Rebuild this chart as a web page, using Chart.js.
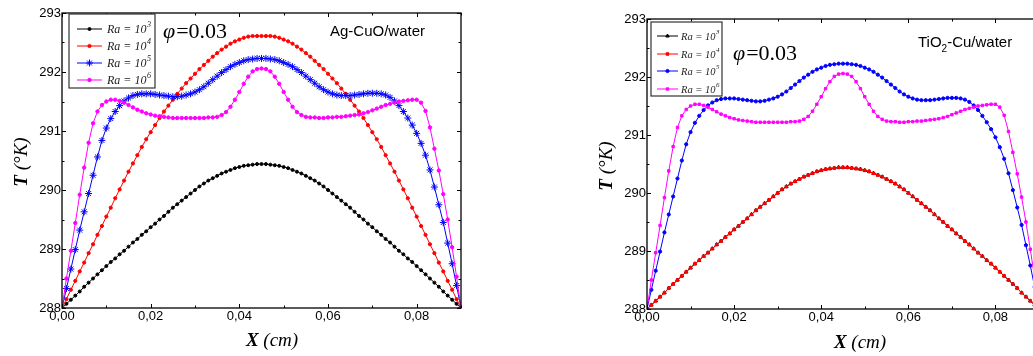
<!DOCTYPE html>
<html>
<head>
<meta charset="utf-8">
<script src="https://cdn.jsdelivr.net/npm/chart.js@4.4.0/dist/chart.umd.min.js"></script>
<style>
html, body { margin: 0; padding: 0; background: #fff; overflow: hidden; }
#wrap { position: relative; width: 1033px; height: 356px; overflow: hidden; }
#left { position: absolute; left: 0; top: 0; }
#right { position: absolute; left: 585px; top: 0; }
</style>
</head>
<body>
<div id="wrap">
  <canvas id="left" width="480" height="356"></canvas>
  <canvas id="right" width="480" height="356"></canvas>
</div>
<script>
// X position (cm)
const xs = [
  0.000, 0.001, 0.002, 0.003, 0.004, 0.005, 0.006, 0.007, 0.008, 0.009,
  0.010, 0.011, 0.012, 0.013, 0.014, 0.015, 0.016, 0.017, 0.018, 0.019,
  0.020, 0.021, 0.022, 0.023, 0.024, 0.025, 0.026, 0.027, 0.028, 0.029,
  0.030, 0.031, 0.032, 0.033, 0.034, 0.035, 0.036, 0.037, 0.038, 0.039,
  0.040, 0.041, 0.042, 0.043, 0.044, 0.045, 0.046, 0.047, 0.048, 0.049,
  0.050, 0.051, 0.052, 0.053, 0.054, 0.055, 0.056, 0.057, 0.058, 0.059,
  0.060, 0.061, 0.062, 0.063, 0.064, 0.065, 0.066, 0.067, 0.068, 0.069,
  0.070, 0.071, 0.072, 0.073, 0.074, 0.075, 0.076, 0.077, 0.078, 0.079,
  0.080, 0.081, 0.082, 0.083, 0.084, 0.085, 0.086, 0.087, 0.088, 0.089,
  0.090
];

// Ra = 10^3 (also the TiO2-Cu Ra=10^3 / 10^4 curves, which lie on top of each other)
const ra3 = [
  288.00, 288.07, 288.14, 288.21, 288.28, 288.36, 288.43, 288.50, 288.57, 288.64,
  288.71, 288.78, 288.84, 288.91, 288.97, 289.04, 289.11, 289.17, 289.24, 289.30,
  289.37, 289.43, 289.50, 289.56, 289.63, 289.70, 289.76, 289.82, 289.88, 289.94,
  290.00, 290.06, 290.11, 290.16, 290.20, 290.24, 290.28, 290.31, 290.34, 290.37,
  290.39, 290.41, 290.42, 290.43, 290.44, 290.44,
  290.44, 290.43, 290.42, 290.41, 290.39, 290.37, 290.34, 290.31, 290.28, 290.24,
  290.20, 290.16, 290.11, 290.06, 290.00, 289.94, 289.88, 289.82, 289.76, 289.70,
  289.63, 289.56, 289.50, 289.43, 289.37, 289.30, 289.24, 289.17, 289.11, 289.04,
  288.97, 288.91, 288.84, 288.78, 288.71, 288.64, 288.57, 288.50, 288.43, 288.36,
  288.28, 288.21, 288.14, 288.07, 288.00
];

// Ra = 10^4 (Ag-CuO)
const ra4 = [
  288.00, 288.15, 288.31, 288.46, 288.62, 288.77, 288.93, 289.08, 289.24, 289.39,
  289.55, 289.70, 289.86, 290.01, 290.16, 290.31, 290.45, 290.59, 290.73, 290.86,
  290.98, 291.10, 291.22, 291.33, 291.43, 291.53, 291.63, 291.72, 291.81, 291.89,
  291.97, 292.05, 292.12, 292.19, 292.26, 292.32, 292.38, 292.43, 292.48, 292.52,
  292.55, 292.58, 292.60, 292.61, 292.61, 292.61,
  292.61, 292.61, 292.60, 292.58, 292.55, 292.52, 292.48, 292.43, 292.38, 292.32,
  292.26, 292.19, 292.12, 292.05, 291.97, 291.89, 291.81, 291.72, 291.63, 291.53,
  291.43, 291.33, 291.22, 291.10, 290.98, 290.86, 290.73, 290.59, 290.45, 290.31,
  290.16, 290.01, 289.86, 289.70, 289.55, 289.39, 289.24, 289.08, 288.93, 288.77,
  288.62, 288.46, 288.31, 288.15, 288.00
];

// Ra = 10^5
const ra5 = [
  288.00, 288.33, 288.66, 288.99, 289.32, 289.63, 289.94, 290.25, 290.56, 290.84,
  291.05, 291.21, 291.33, 291.43, 291.51, 291.56, 291.60, 291.62, 291.63, 291.63,
  291.63, 291.62, 291.61, 291.60, 291.59, 291.58, 291.58, 291.59, 291.61, 291.63,
  291.66, 291.70, 291.75, 291.81, 291.87, 291.93, 291.99, 292.04, 292.09, 292.13,
  292.16, 292.19, 292.21, 292.22, 292.23, 292.23,
  292.23, 292.22, 292.21, 292.19, 292.16, 292.13, 292.09, 292.04, 291.99, 291.93,
  291.87, 291.81, 291.75, 291.70, 291.66, 291.63, 291.61, 291.60, 291.60, 291.60,
  291.61, 291.62, 291.63, 291.64, 291.64, 291.64, 291.63, 291.61, 291.57, 291.51,
  291.43, 291.33, 291.22, 291.10, 290.96, 290.79, 290.59, 290.34, 290.05, 289.75,
  289.45, 289.10, 288.75, 288.38, 288.00
];

// Ra = 10^6
const ra6 = [
  288.00, 288.50, 288.97, 289.44, 289.92, 290.38, 290.80, 291.13, 291.33, 291.44,
  291.50, 291.53, 291.53, 291.51, 291.48, 291.44, 291.40, 291.36, 291.33, 291.30,
  291.28, 291.26, 291.25, 291.24, 291.23, 291.22, 291.22, 291.22, 291.22, 291.22,
  291.22, 291.22, 291.22, 291.23, 291.23, 291.24, 291.27, 291.32, 291.41, 291.53,
  291.66, 291.80, 291.92, 292.01, 292.05, 292.06,
  292.05, 292.01, 291.92, 291.80, 291.66, 291.53, 291.41, 291.32, 291.27, 291.24,
  291.23, 291.23, 291.22, 291.22, 291.23, 291.23, 291.24, 291.24, 291.25, 291.26,
  291.27, 291.28, 291.30, 291.32, 291.35, 291.38, 291.41, 291.44, 291.46, 291.48,
  291.50, 291.51, 291.52, 291.53, 291.53, 291.48, 291.34, 291.06, 290.70, 290.33,
  289.93, 289.50, 289.03, 288.53, 288.00
];

const raExp = ["3", "4", "5", "6"];
const xTicks = [0, 0.02, 0.04, 0.06, 0.08];
const xMinor = [0.01, 0.03, 0.05, 0.07, 0.09];
const yTicks = [288, 289, 290, 291, 292, 293];
const yMinor = [288.5, 289.5, 290.5, 291.5, 292.5];

function ds(label, vals, color, style, r, order) {
  return {
    label: label,
    data: xs.map((x, i) => ({ x: x, y: vals[i] })),
    borderColor: color,
    backgroundColor: color,
    borderWidth: 1,
    pointStyle: style,
    pointRadius: r,
    pointBorderWidth: 1,
    pointHoverRadius: r,
    tension: 0,
    order: order
  };
}

// frame, inner ticks, legend, texts
const decor = {
  id: "decor",
  afterDraw(chart) {
    const o = chart.options.plugins.decor;
    const ctx = chart.ctx, a = chart.chartArea;
    const sx = chart.scales.x, sy = chart.scales.y;
    ctx.save();
    ctx.strokeStyle = "#000";
    ctx.lineWidth = 1.3;
    ctx.strokeRect(a.left, a.top, a.right - a.left, a.bottom - a.top);
    ctx.lineWidth = 1;
    ctx.beginPath();
    const tx = (v, len) => {
      const p = Math.round(sx.getPixelForValue(v)) + 0.5;
      ctx.moveTo(p, a.bottom); ctx.lineTo(p, a.bottom - len);
      ctx.moveTo(p, a.top); ctx.lineTo(p, a.top + len);
    };
    const ty = (v, len) => {
      const p = Math.round(sy.getPixelForValue(v)) + 0.5;
      ctx.moveTo(a.left, p); ctx.lineTo(a.left + len, p);
      ctx.moveTo(a.right, p); ctx.lineTo(a.right - len, p);
    };
    xTicks.forEach(v => tx(v, 4));
    xMinor.forEach(v => tx(v, 2.5));
    yTicks.forEach(v => ty(v, 4));
    yMinor.forEach(v => ty(v, 2.5));
    ctx.stroke();

    // legend
    const L = o.legend;
    ctx.fillStyle = "#fff";
    ctx.fillRect(L.x, L.y, L.w, L.h);
    ctx.lineWidth = 1.2;
    ctx.strokeStyle = "#333";
    ctx.strokeRect(L.x, L.y, L.w, L.h);
    chart.data.datasets.forEach((d, i) => {
      const yy = L.rows[i];
      ctx.strokeStyle = d.borderColor;
      ctx.fillStyle = d.backgroundColor;
      ctx.lineWidth = 1;
      ctx.beginPath();
      ctx.moveTo(L.x1, yy); ctx.lineTo(L.x2, yy);
      ctx.stroke();
      Chart.helpers.drawPoint(ctx, { pointStyle: d.pointStyle, radius: d.pointRadius, rotation: 0, borderWidth: 1 }, (L.x1 + L.x2) / 2, yy);
      ctx.fillStyle = "#222";
      ctx.textBaseline = "middle";
      ctx.textAlign = "left";
      ctx.font = "italic " + L.fs + "px 'Liberation Serif'";
      const t = "Ra = 10";
      ctx.fillText(t, L.tx, yy + 1);
      const w = ctx.measureText(t).width;
      ctx.font = "italic " + Math.round(L.fs * 0.7) + "px 'Liberation Serif'";
      ctx.fillText(raExp[i], L.tx + w + 0.5, yy - L.fs * 0.35);
    });

    // phi
    ctx.fillStyle = "#000";
    ctx.textBaseline = "middle";
    ctx.textAlign = "left";
    ctx.font = "italic " + o.phi.fs + "px 'Liberation Serif'";
    ctx.fillText("\u03C6", o.phi.x, o.phi.y);
    let w = ctx.measureText("\u03C6").width;
    ctx.font = o.phi.fs + "px 'Liberation Serif'";
    ctx.fillText("=0.03", o.phi.x + w + 1, o.phi.y);

    // material label
    let px = o.name.x;
    o.name.parts.forEach(p => {
      if (p.sub) {
        ctx.font = "10px 'Liberation Sans'";
        ctx.fillText(p.t, px, o.name.y + 6);
      } else {
        ctx.font = "15px 'Liberation Sans'";
        ctx.fillText(p.t, px, o.name.y);
      }
      px += ctx.measureText(p.t).width;
    });

    // axis titles
    const title = (bold, rest, cx, cy, rot) => {
      ctx.save();
      ctx.translate(cx, cy);
      ctx.rotate(rot);
      ctx.font = "bold italic 19px 'Liberation Serif'";
      const w1 = ctx.measureText(bold).width;
      ctx.font = "italic 19px 'Liberation Serif'";
      const w2 = ctx.measureText(rest).width;
      let x0 = -(w1 + w2) / 2;
      ctx.textAlign = "left";
      ctx.font = "bold italic 19px 'Liberation Serif'";
      ctx.fillText(bold, x0, 0);
      ctx.font = "italic 19px 'Liberation Serif'";
      ctx.fillText(rest, x0 + w1, 0);
      ctx.restore();
    };
    title("X", " (cm)", o.xt.x, o.xt.y, 0);
    title("T", " (\u00B0K)", o.yt.x, o.yt.y, -Math.PI / 2);
    ctx.restore();
  }
};

function scales(xh, yw) {
  const f = { family: "'Liberation Sans'", size: 13 };
  return {
    x: {
      type: "linear", min: 0, max: 0.09,
      grid: { display: false, drawTicks: false }, border: { display: false },
      afterBuildTicks: s => { s.ticks = xTicks.map(v => ({ value: v })); },
      afterFit: s => { s.height = xh; },
      ticks: { font: f, color: "#000", padding: 1, maxRotation: 0, autoSkip: false,
        callback: v => v.toFixed(2).replace(".", ",") }
    },
    y: {
      min: 288, max: 293,
      grid: { display: false, drawTicks: false }, border: { display: false },
      afterBuildTicks: s => { s.ticks = yTicks.map(v => ({ value: v })); },
      afterFit: s => { s.width = yw; },
      ticks: { font: f, color: "#000", padding: 1, callback: v => String(v) }
    }
  };
}

new Chart(document.getElementById("left"), {
  type: "line",
  data: {
    datasets: [
      ds("Ra = 10^3", ra3, "#000000", "circle", 1.5, 3),
      ds("Ra = 10^4", ra4, "#ff0000", "circle", 1.6, 2),
      ds("Ra = 10^5", ra5, "#0000ff", "star", 3.5, 1),
      ds("Ra = 10^6", ra6, "#ff00ff", "circle", 1.7, 0)
    ]
  },
  options: {
    responsive: false, animation: false,
    layout: { padding: { left: 0, top: 13, right: 19, bottom: 0 } },
    scales: scales(48, 62),
    plugins: {
      legend: { display: false }, tooltip: { enabled: false },
      decor: {
        legend: { x: 69, y: 14, w: 86, h: 74, rows: [29, 46, 63, 80], x1: 77, x2: 102, tx: 107, fs: 12 },
        phi: { x: 163, y: 32, fs: 22 },
        name: { x: 330, y: 32, parts: [{ t: "Ag-CuO/water" }] },
        xt: { x: 272, y: 341 },
        yt: { x: 22, y: 162 }
      }
    }
  },
  plugins: [decor]
});

new Chart(document.getElementById("right"), {
  type: "line",
  data: {
    datasets: [
      ds("Ra = 10^3", ra3, "#000000", "triangle", 2, 3),
      ds("Ra = 10^4", ra3, "#ff0000", "rect", 1.8, 2),
      ds("Ra = 10^5", ra5, "#0000ff", "circle", 1.6, 1),
      ds("Ra = 10^6", ra6, "#ff00ff", "rect", 1.7, 0)
    ]
  },
  options: {
    responsive: false, animation: false,
    layout: { padding: { left: 0, top: 19, right: 26, bottom: 0 } },
    scales: scales(47, 62),
    plugins: {
      legend: { display: false }, tooltip: { enabled: false },
      decor: {
        legend: { x: 66, y: 22, w: 71, h: 74, rows: [36, 54, 71, 89], x1: 72, x2: 93, tx: 96, fs: 10.5 },
        phi: { x: 148, y: 54, fs: 22 },
        name: { x: 333, y: 43, parts: [{ t: "TiO" }, { t: "2", sub: true }, { t: "-Cu/water" }] },
        xt: { x: 275, y: 343 },
        yt: { x: 22, y: 166 }
      }
    }
  },
  plugins: [decor]
});
</script>
</body>
</html>
